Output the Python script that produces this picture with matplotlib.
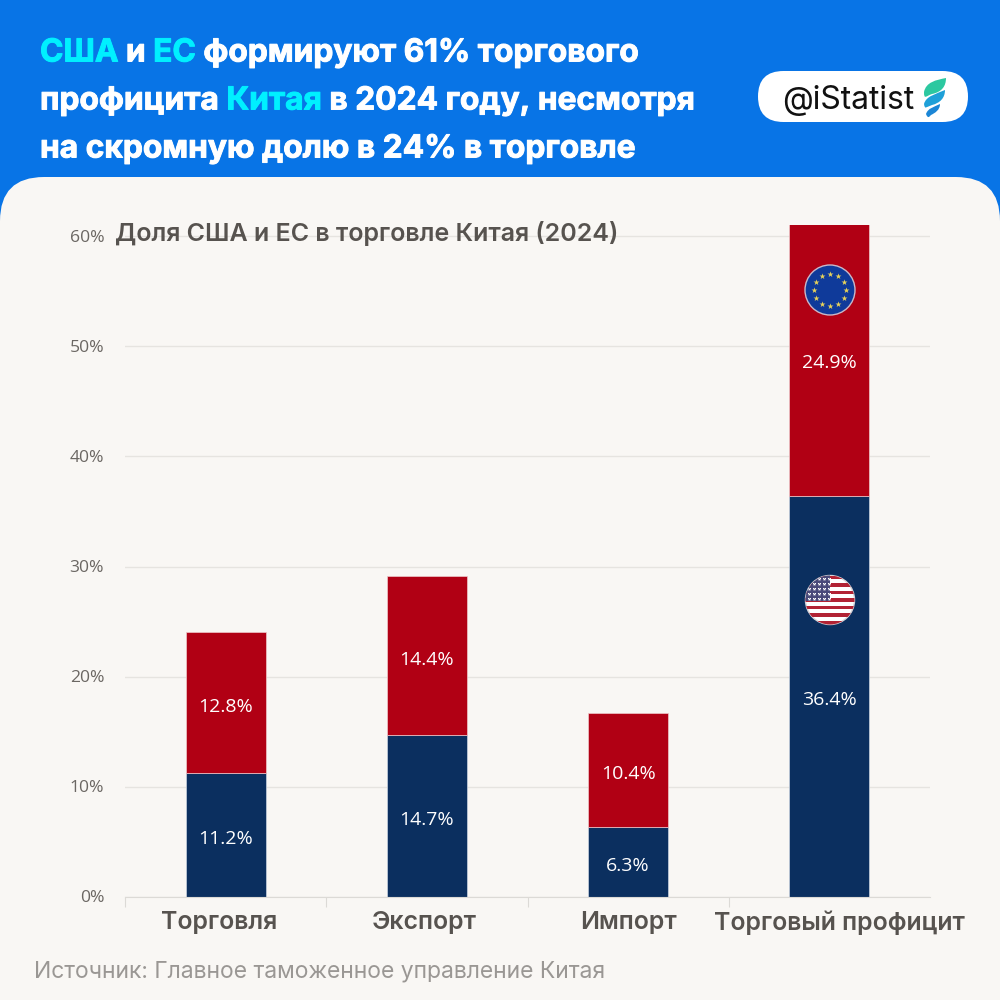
import matplotlib
matplotlib.use("Agg")
import matplotlib.pyplot as plt
import matplotlib.patheffects as pe
from matplotlib.patches import Circle, FancyBboxPatch, PathPatch, Rectangle
from matplotlib.path import Path
import numpy as np

categories = ["Торговля", "Экспорт", "Импорт", "Торговый профицит"]
usa_share = [11.2, 14.7, 6.3, 36.4]
eu_share = [12.8, 14.4, 10.4, 24.9]
y_ticks = [0, 10, 20, 30, 40, 50, 60]

title_lines = [
    [("США", "#00F0FF"), (" и ", "white"), ("ЕС", "#00F0FF"), (" формируют 61% торгового", "white")],
    [("профицита ", "white"), ("Китая", "#00F0FF"), (" в 2024 году, несмотря", "white")],
    [("на скромную долю в 24% в торговле", "white")],
]
chart_title = "Доля США и ЕС в торговле Китая (2024)"
source = "Источник: Главное таможенное управление Китая"

BLUE = "#0874E6"
PANEL = "#F9F7F4"
NAVY = "#0B2F5F"
RED = "#B10014"
GREY = "#57534F"

fig = plt.figure(figsize=(10, 10), dpi=100, facecolor=BLUE)

# background layer in pixel coordinates
bg = fig.add_axes([0, 0, 1, 1], zorder=0)
bg.set_xlim(0, 1000)
bg.set_ylim(1000, 0)
bg.axis("off")
bg.add_patch(FancyBboxPatch((0, 177), 1000, 900, boxstyle="round,pad=0,rounding_size=44",
                            fc=PANEL, ec="none"))

renderer = fig.canvas.get_renderer()
for i, line in enumerate(title_lines):
    x = 40
    y = 49.5 + i * 48
    for part, color in line:
        t = bg.text(x, y, part, color=color, fontsize=22.85, family="Inter", weight="bold",
                    va="center_baseline", ha="left")
        t.set_path_effects([pe.withStroke(linewidth=0.7, foreground=color)])
        # trailing spaces get lost in the extent, so measure with no-break spaces
        probe = bg.text(0, 0, part.replace(" ", "\u00a0"), fontsize=22.85, family="Inter", weight="bold")
        x += probe.get_window_extent(renderer).width
        probe.remove()

# logo pill
bg.add_patch(FancyBboxPatch((758, 71), 210, 51, boxstyle="round,pad=0,rounding_size=25.5",
                            fc="white", ec="none"))
bg.text(782, 97, "@iStatist", fontsize=23, family="Inter", color="#111111",
        va="center_baseline", ha="left")
C4 = Path.CURVE4
feather = [
    ([(924, 92), (926, 82), (936, 80), (946, 78), (946, 86), (942, 92), (932, 94), (926, 96), (924, 100), (924, 92)],
     [Path.MOVETO, C4, C4, C4, C4, C4, C4, C4, C4, Path.CLOSEPOLY], "#2CC8A0"),
    ([(924, 104), (926, 96), (936, 94), (945, 90), (945, 98), (940, 103), (932, 105), (926, 107), (925, 110), (924, 104)],
     [Path.MOVETO, C4, C4, C4, C4, C4, C4, C4, C4, Path.CLOSEPOLY], "#1FA0D8"),
    ([(926, 114), (928, 108), (934, 107), (940, 104), (940, 110), (935, 113), (931, 115), (929, 117), (928, 119), (926, 114)],
     [Path.MOVETO, C4, C4, C4, C4, C4, C4, C4, C4, Path.CLOSEPOLY], "#1B86D6"),
]
for verts, codes, col in feather:
    bg.add_patch(PathPatch(Path(verts, codes), fc=col, ec="none"))

# chart
ax = fig.add_axes([0.125, 0.1035, 0.805, 0.671], zorder=1)
ax.patch.set_alpha(0)
x = np.arange(len(categories))
ax.set_xlim(-0.5, 3.5)
ax.set_ylim(0, 61)
ax.yaxis.grid(True, color="#E6E4E0", lw=1)
ax.set_axisbelow(True)
ax.bar(x, usa_share, width=0.397, color=NAVY, edgecolor="#C9D3E0", linewidth=0.5)
ax.bar(x, eu_share, width=0.397, bottom=usa_share, color=RED, edgecolor="#EFC9CC", linewidth=0.5)
for i in x:
    ax.annotate(f"{usa_share[i]}%", (i, usa_share[i] / 2), xytext=(0, -3), textcoords="offset points",
                color="white", ha="center", va="center", fontsize=14, family="Open Sans", weight="medium")
    ax.annotate(f"{eu_share[i]}%", (i, usa_share[i] + eu_share[i] / 2), xytext=(0, -3),
                textcoords="offset points", color="white", ha="center", va="center",
                fontsize=14, family="Open Sans", weight="medium")
for s in ["top", "right", "left"]:
    ax.spines[s].set_visible(False)
ax.spines["bottom"].set_color("#DCDAD6")
ax.set_yticks(y_ticks)
ax.set_yticklabels([f"{v}%" for v in y_ticks], fontsize=12.6, family="Open Sans", weight="medium", color="#6B6763",
                   va="center_baseline")
ax.tick_params(axis="y", length=0, pad=15)
ax.set_xticks(x - 0.5)
ax.set_xticklabels([])
ax.tick_params(axis="x", length=7, color="#DCDAD6")
# the category labels do not sit exactly under the bars in the original
label_nudge = [-7, -3, 0, 10]
for i, name in enumerate(categories):
    ax.annotate(name, (i, 0), xycoords=ax.get_xaxis_transform(), xytext=(label_nudge[i] * 0.72, -19),
                textcoords="offset points", ha="center", va="center", fontsize=17.9, family="Inter",
                weight="semibold", color=GREY, annotation_clip=False)

# foreground layer: chart title, source and flags
fg = fig.add_axes([0, 0, 1, 1], zorder=2)
fg.set_xlim(0, 1000)
fg.set_ylim(1000, 0)
fg.axis("off")
fg.text(115, 233, chart_title, fontsize=18, family="Inter", weight="semibold", color=GREY,
        va="center", ha="left")
fg.text(34, 972, source, fontsize=16.5, family="Inter", color="#9A9794", va="center", ha="left")

# EU flag
fg.add_patch(Circle((830, 290), 25, fc="#0F3A9A", ec="#C9B8C8", lw=1))
ang = np.deg2rad(np.arange(0, 360, 30))
fg.scatter(830 + 16 * np.cos(ang), 290 + 16 * np.sin(ang), marker="*", s=20, c="#E8D25A", lw=0)

# US flag
clip = Circle((830, 600), 24.5, transform=fg.transData, fc="white", ec="#D8D4D8", lw=1)
fg.add_patch(clip)
for k in range(0, 13, 2):
    r = Rectangle((800, 575.5 + k * 49 / 13), 60, 49 / 13, fc="#B22234", ec="none")
    fg.add_patch(r)
    r.set_clip_path(clip)
c = Rectangle((800, 575), 30, 25.5, fc="#4A4A7A", ec="none")
fg.add_patch(c)
c.set_clip_path(clip)
sx, sy = np.meshgrid(np.arange(809, 830, 5), np.arange(579, 600, 5))
st = fg.scatter(sx.ravel(), sy.ravel(), marker="*", s=6, c="white", lw=0)
st.set_clip_path(clip)

fig.savefig("out.png", dpi=100, facecolor=BLUE)
